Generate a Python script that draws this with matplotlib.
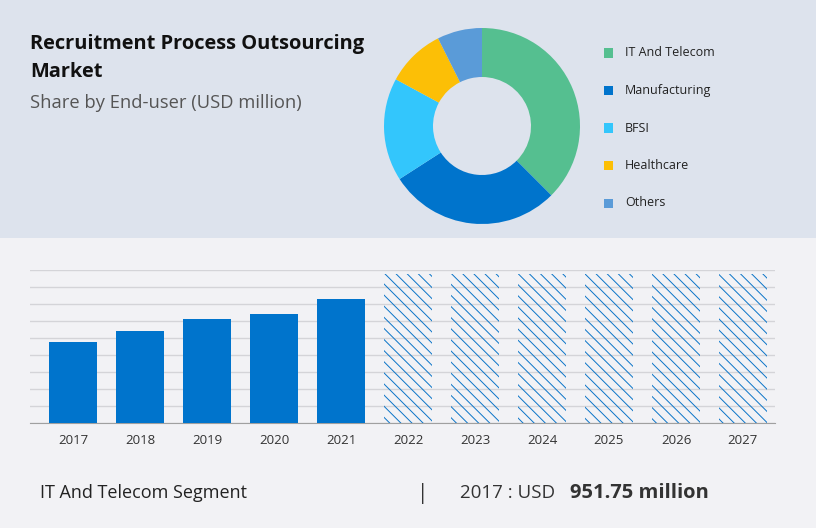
import matplotlib
matplotlib.use('Agg')
import matplotlib.pyplot as plt
from matplotlib.patches import Rectangle

plt.rcParams['font.family'] = ['Open Sans', 'DejaVu Sans']
plt.rcParams['hatch.linewidth'] = 0.7

# Donut data (share by end-user, %)
segments = ['IT And Telecom', 'Manufacturing', 'BFSI', 'Healthcare', 'Others']
shares = [37.5, 28.4, 17.0, 9.7, 7.4]
seg_colors = ['#55bf90', '#0074cc', '#33c6fc', '#fcbf06', '#5a9bd8']

# Bar data (USD million)
years = ['2017', '2018', '2019', '2020', '2021', '2022', '2023', '2024', '2025', '2026', '2027']
values = [951.75, 1077, 1223, 1282, 1459, 1750, 1750, 1750, 1750, 1750, 1750]
n_actual = 5

W, H = 816, 528
fig = plt.figure(figsize=(W / 100, H / 100), dpi=100)
fig.patch.set_facecolor('#f2f2f5')

# top band
fig.patches.append(Rectangle((0, 1 - 238 / H), 1, 238 / H, transform=fig.transFigure,
                             facecolor='#dde3ed', edgecolor='none', zorder=-5))

# Title
fig.text(30 / W, 1 - 44 / H, 'Recruitment Process Outsourcing', fontsize=14.4,
         fontweight='bold', color='#111111', va='center', ha='left')
fig.text(30 / W, 1 - 72 / H, 'Market', fontsize=14.4,
         fontweight='bold', color='#111111', va='center', ha='left')
fig.text(30 / W, 1 - 103 / H, 'Share by End-user (USD million)', fontsize=13.2,
         color='#555555', va='center', ha='left')

# Donut
cx, cy, r = 482, 126, 100
ax_pie = fig.add_axes([(cx - r) / W, 1 - (cy + r) / H, 2 * r / W, 2 * r / H])
ax_pie.pie(shares, colors=seg_colors, startangle=90, counterclock=False, radius=0.98,
           wedgeprops=dict(width=0.49, edgecolor='none'))
ax_pie.set_xlim(-1, 1)
ax_pie.set_ylim(-1, 1)
ax_pie.set_aspect('equal')
ax_pie.axis('off')

# Legend
for i, (lab, col) in enumerate(zip(segments, seg_colors)):
    y = 53 + i * 37.5
    fig.patches.append(Rectangle((604 / W, 1 - (y + 4.5) / H), 9 / W, 9 / H,
                                 transform=fig.transFigure, facecolor=col, edgecolor='none'))
    fig.text(625 / W, 1 - y / H, lab, fontsize=9, color='#222222', va='center', ha='left')

# Bars
x0 = 73
step = 67
ax = fig.add_axes([30 / W, 1 - 423 / H, (775 - 30) / W, (423 - 270) / H])
ax.set_facecolor('none')
xs = list(range(len(years)))
ax.bar(xs[:n_actual], values[:n_actual], width=0.72, color='#0074cc', zorder=3)
ax.bar(xs[n_actual:], values[n_actual:], width=0.72, facecolor='none',
       edgecolor='#0a74c8', hatch='\\\\\\', linewidth=0, zorder=3)
ax.set_xlim((30 - x0) / step, (775 - x0) / step)
ax.set_ylim(0, 1800)
ax.set_yticks(range(0, 1801, 200))
ax.yaxis.grid(True, color='#d4d4d8', linewidth=1)
ax.set_axisbelow(True)
ax.tick_params(axis='y', left=False, labelleft=False)
ax.tick_params(axis='x', length=0, pad=8, labelsize=9.5, labelcolor='#333333')
ax.set_xticks(xs)
ax.set_xticklabels(years)
for s in ['top', 'right', 'left']:
    ax.spines[s].set_visible(False)
ax.spines['bottom'].set_color('#a0a0a0')

# Footer
fig.text(40 / W, 1 - 493 / H, 'IT And Telecom Segment', fontsize=13, color='#222222',
         va='center', ha='left')
fig.text(423 / W, 1 - 493 / H, '|', fontsize=15, color='#333333', va='center', ha='center')
fig.text(460 / W, 1 - 493 / H, '2017 : USD', fontsize=13.5, color='#333333',
         va='center', ha='left')
fig.text(570 / W, 1 - 493 / H, '951.75 million', fontsize=14.5, fontweight='bold',
         color='#333333', va='center', ha='left')

fig.savefig('out.png', dpi=100, facecolor=fig.get_facecolor())
